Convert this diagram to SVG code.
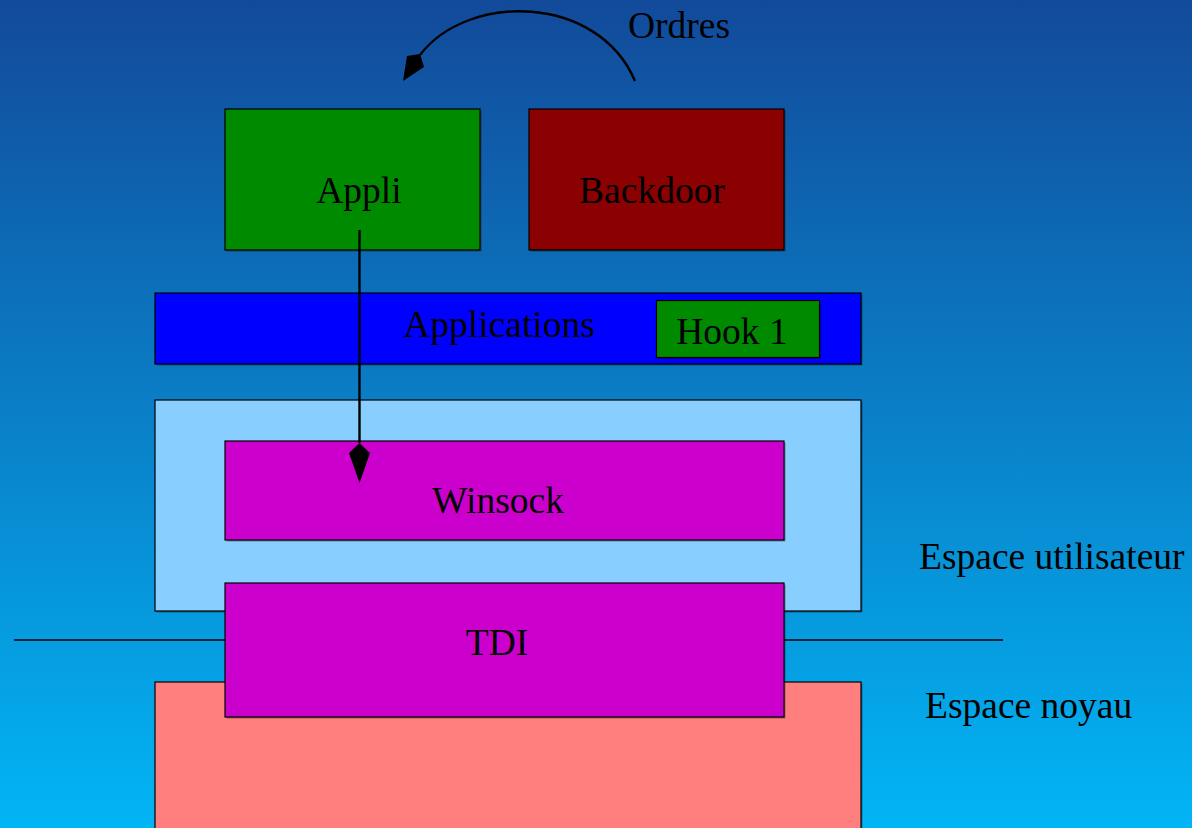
<svg xmlns="http://www.w3.org/2000/svg" width="1192" height="828" viewBox="0 0 1192 828">
  <defs>
    <linearGradient id="bg" x1="0" y1="0" x2="0" y2="1">
      <stop offset="0" stop-color="#124A9A"/>
      <stop offset="1" stop-color="#02B5F5"/>
    </linearGradient>
  </defs>
  <style>
    .box { stroke: #000; stroke-width: 1.2; }
    .shadow { fill: #000; opacity: 0.35; }
    .lbl { font-family: "Liberation Serif", "Times New Roman", serif; font-size: 37.5px; fill: #000; }
    .mid { text-anchor: middle; }
    .conn { fill: none; stroke: #000; stroke-width: 2.4; }
  </style>

  <rect x="0" y="0" width="1192" height="828" fill="url(#bg)"/>

  <!-- user / kernel separator -->
  <line x1="14" y1="640" x2="1003" y2="640" stroke="#000" stroke-width="1.4"/>

  <g id="kernel">
    <rect class="shadow" x="156.5" y="683.5" width="706" height="150"/>
    <rect class="box" x="155" y="682" width="706" height="150" fill="#FF7F7F"/>
  </g>

  <g id="userspace">
    <rect class="shadow" x="156.5" y="401.5" width="706" height="211"/>
    <rect class="box" x="155" y="400" width="706" height="211" fill="#88CEFF"/>
  </g>

  <g id="applications">
    <rect class="shadow" x="156.5" y="294.5" width="706" height="71"/>
    <rect class="box" x="155" y="293" width="706" height="71" fill="#0000FF"/>
    <text class="lbl mid" x="499" y="337">Applications</text>
  </g>

  <g id="hook1">
    <rect class="shadow" x="658" y="302" width="163" height="57"/>
    <rect class="box" x="656.5" y="300.5" width="163" height="57" fill="#008A00"/>
    <text class="lbl mid" x="732" y="344">Hook 1</text>
  </g>

  <g id="appli">
    <rect class="shadow" x="226.5" y="110.5" width="255" height="141"/>
    <rect class="box" x="225" y="109" width="255" height="141" fill="#008A00"/>
    <text class="lbl mid" x="359" y="203">Appli</text>
  </g>

  <g id="backdoor">
    <rect class="shadow" x="530.5" y="110.5" width="255" height="141"/>
    <rect class="box" x="529" y="109" width="255" height="141" fill="#8B0000"/>
    <text class="lbl mid" x="652" y="203">Backdoor</text>
  </g>

  <g id="winsock">
    <rect class="shadow" x="226.5" y="442.5" width="559" height="99"/>
    <rect class="box" x="225" y="441" width="559" height="99" fill="#CC00CC"/>
    <text class="lbl mid" x="498" y="513">Winsock</text>
  </g>

  <g id="tdi">
    <rect class="shadow" x="226.5" y="584.5" width="559" height="134"/>
    <rect class="box" x="225" y="583" width="559" height="134" fill="#CC00CC"/>
    <text class="lbl mid" x="497" y="655">TDI</text>
  </g>

  <g id="labels">
    <text class="lbl" x="919" y="569">Espace utilisateur</text>
    <text class="lbl" x="925" y="718">Espace noyau</text>
    <text class="lbl" x="628" y="38">Ordres</text>
  </g>

  <g id="connectors">
    <!-- Appli calls into Winsock -->
    <line class="conn" x1="359.5" y1="230" x2="359.5" y2="443"/>
    <path d="M359.5,443 L349,453 L359.5,483 L370,453 Z" fill="#000"/>
    <!-- orders sent by the backdoor -->
    <path class="conn" d="M635,81 C598,-6 468,-8 420,55"/>
    <path d="M420,54 L407,56 L403,81 L424,67 Z" fill="#000"/>
  </g>
</svg>
